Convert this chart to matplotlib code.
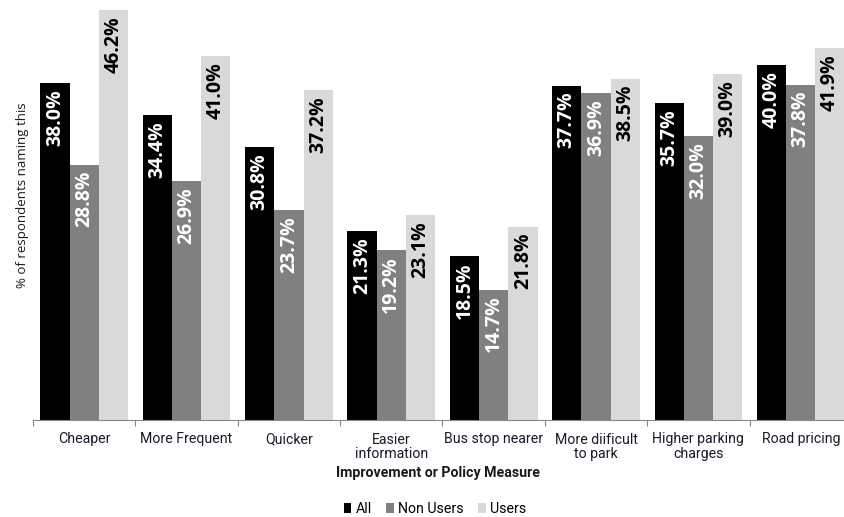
import matplotlib
matplotlib.use("Agg")
import matplotlib.pyplot as plt
from matplotlib.patches import Patch
import numpy as np

categories = ["Cheaper", "More Frequent", "Quicker", "Easier\ninformation",
              "Bus stop nearer", "More diificult\nto park", "Higher parking\ncharges",
              "Road pricing"]
series_names = ["All", "Non Users", "Users"]
all_vals = [38.0, 34.4, 30.8, 21.3, 18.5, 37.7, 35.7, 40.0]
non_users = [28.8, 26.9, 23.7, 19.2, 14.7, 36.9, 32.0, 37.8]
users = [46.2, 41.0, 37.2, 23.1, 21.8, 38.5, 39.0, 41.9]

colors = ["#000000", "#808080", "#d9d9d9"]
text_colors = ["white", "white", "black"]
narrow = "Roboto"

fig = plt.figure(figsize=(8.45, 5.17), dpi=100)
W, H = 845, 517
ax = fig.add_axes([33 / W, (H - 420) / H, 819 / W, 420 / H])

x = np.arange(len(categories))
w = 0.286
label_font = dict(family="Open Sans", weight="bold", size=14)

for k, (vals, c, tc) in enumerate(zip([all_vals, non_users, users], colors, text_colors)):
    xs = x + (k - 1) * w
    ax.bar(xs, vals, width=w, color=c, edgecolor="none", label=series_names[k])
    for xi, v in zip(xs, vals):
        ax.annotate(f"{v:.1f}%", xy=(xi, v), xytext=(0, -4.5), textcoords="offset points",
                    rotation=90, ha="center", va="top", color=tc, **label_font)

ax.set_xlim(-0.5, len(categories) - 0.5)
ax.set_ylim(0, 47.35)
ax.set_yticks([])
for s in ["top", "right", "left"]:
    ax.spines[s].set_visible(False)
ax.spines["bottom"].set_color("#888888")
ax.spines["bottom"].set_linewidth(0.8)

ax.set_xticks(x)
ax.set_xticklabels(categories, fontsize=10.2, color="#1a1a2a", linespacing=1.05,
                   fontfamily=narrow)
ax.tick_params(axis="x", which="major", length=0, pad=9)
ax.set_xticks(np.arange(len(categories) + 1) - 0.5, minor=True)
ax.tick_params(axis="x", which="minor", length=4, color="#888888", width=0.8)

fig.text(438 / W, 1 - 473 / H, "Improvement or Policy Measure",
         ha="center", va="center", fontsize=10.2, fontweight="bold",
         fontfamily=narrow, color="#1a1a1a")
fig.text(23 / W, 1 - 195 / H, "% of respondents naming this", rotation=90,
         ha="center", va="center", fontsize=9.5, fontfamily="Open Sans", color="#1a1a1a")

handles = [Patch(facecolor=c, edgecolor="none") for c in colors]
fig.legend(handles, series_names, loc="center", bbox_to_anchor=(435 / W, 1 - 509 / H),
           ncol=3, frameon=False, handlelength=0.55, handleheight=0.75, handletextpad=0.3,
           columnspacing=1.0, prop=dict(family=narrow, size=10.2))

fig.savefig("out.png", dpi=100)
